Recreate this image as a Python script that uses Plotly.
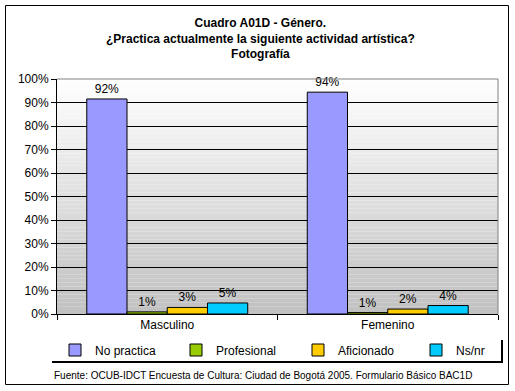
import plotly.graph_objects as go

categories = ["Masculino", "Femenino"]
series_names = ["No practica", "Profesional", "Aficionado", "Ns/nr"]
no_practica = [0.915, 0.944]
profesional = [0.009, 0.006]
aficionado = [0.028, 0.021]
ns_nr = [0.047, 0.036]
colors = ["#9999FF", "#99CC00", "#FFCC00", "#00CCFF"]
y_ticks = [i / 10 for i in range(11)]

W, H = 515, 391
L, R, T, B = 57, 17, 79, 77
pw, ph = W - L - R, H - T - B

def px_x(x):
    return (x - L) / pw

def px_y(y):
    return (H - B - y) / ph

FONT = "Arial, Liberation Sans, sans-serif"
legend_ids = ["legend", "legend2", "legend3", "legend4"]
legend_px = [79, 200, 322, 440]

fig = go.Figure()
for name, vals, col, lid in zip(series_names, [no_practica, profesional, aficionado, ns_nr], colors, legend_ids):
    fig.add_trace(go.Bar(
        name=name, x=categories, y=vals, legend=lid,
        marker=dict(color=col, line=dict(color="black", width=1)),
        texttemplate="%{y:.0%}", textposition="outside",
        textfont=dict(size=12, color="black", family=FONT),
        cliponaxis=False,
    ))

shapes = []
n = 60
for i in range(n):
    g = int(round(255 - (255 - 192) * (1 - (i + 0.5) / n)))
    shapes.append(dict(type="rect", xref="paper", yref="paper", x0=0, x1=1,
                       y0=i / n, y1=(i + 1) / n, layer="below",
                       fillcolor=f"rgb({g},{g},{g})", line=dict(width=0)))
shapes.append(dict(type="line", xref="paper", yref="paper", x0=0, x1=1, y0=1, y1=1,
                   line=dict(color="#808080", width=1)))
shapes.append(dict(type="line", xref="paper", yref="paper", x0=1, x1=1, y0=0, y1=1,
                   line=dict(color="#808080", width=1)))
shapes.append(dict(type="rect", xref="paper", yref="paper",
                   x0=px_x(5.5), x1=px_x(508.5), y0=px_y(384.5), y1=px_y(5.5),
                   line=dict(color="black", width=1)))
shapes.append(dict(type="line", xref="paper", yref="paper",
                   x0=px_x(52), x1=px_x(503), y0=px_y(362), y1=px_y(362),
                   line=dict(color="black", width=2)))
shapes.append(dict(type="line", xref="paper", yref="paper",
                   x0=px_x(502), x1=px_x(502), y0=px_y(340), y1=px_y(362),
                   line=dict(color="black", width=2)))

legend_common = dict(orientation="h", yanchor="middle", xanchor="left",
                     font=dict(size=12, family=FONT), bgcolor="rgba(0,0,0,0)",
                     itemwidth=30)
layout_legends = {}
for lid, lx in zip(legend_ids, legend_px):
    layout_legends[lid] = dict(legend_common, x=px_x(lx - 24), y=px_y(350))

fig.update_layout(
    width=W, height=H,
    margin=dict(l=L, r=R, t=T, b=B, autoexpand=False),
    paper_bgcolor="white",
    plot_bgcolor="rgba(0,0,0,0)",
    barmode="group", bargap=0.27, bargroupgap=0,
    font=dict(family=FONT, size=12, color="black"),
    showlegend=True,
    shapes=shapes,
    annotations=[
        dict(text="<b>Cuadro A01D - Género.</b><br><b>¿Practica actualmente la siguiente actividad artística?</b><br><b>Fotografía</b>",
             xref="paper", yref="paper", x=px_x(260), y=px_y(38), xanchor="center", yanchor="middle",
             showarrow=False, font=dict(size=12, family=FONT), align="center"),
        dict(text="Fuente: OCUB-IDCT Encuesta de Cultura: Ciudad de Bogotá 2005. Formulario Básico BAC1D",
             xref="paper", yref="paper", x=px_x(52), y=px_y(375), xanchor="left", yanchor="middle",
             showarrow=False, font=dict(size=10, family=FONT)),
    ],
    xaxis=dict(showline=True, linecolor="black", linewidth=1, ticks="outside",
               tickson="boundaries", ticklen=5, tickcolor="black", showgrid=False,
               tickfont=dict(size=12, family=FONT)),
    yaxis=dict(range=[0, 1], tickvals=y_ticks, tickformat=".0%", showline=True,
               linecolor="black", linewidth=1, ticks="outside", ticklen=5,
               tickcolor="black", showgrid=True, gridcolor="black", gridwidth=1,
               zeroline=False, tickfont=dict(size=12, family=FONT)),
    **layout_legends,
)

fig.write_html("out.html", config={"displayModeBar": False},
               post_script="document.body.style.margin='0';document.body.style.overflow='hidden';")
